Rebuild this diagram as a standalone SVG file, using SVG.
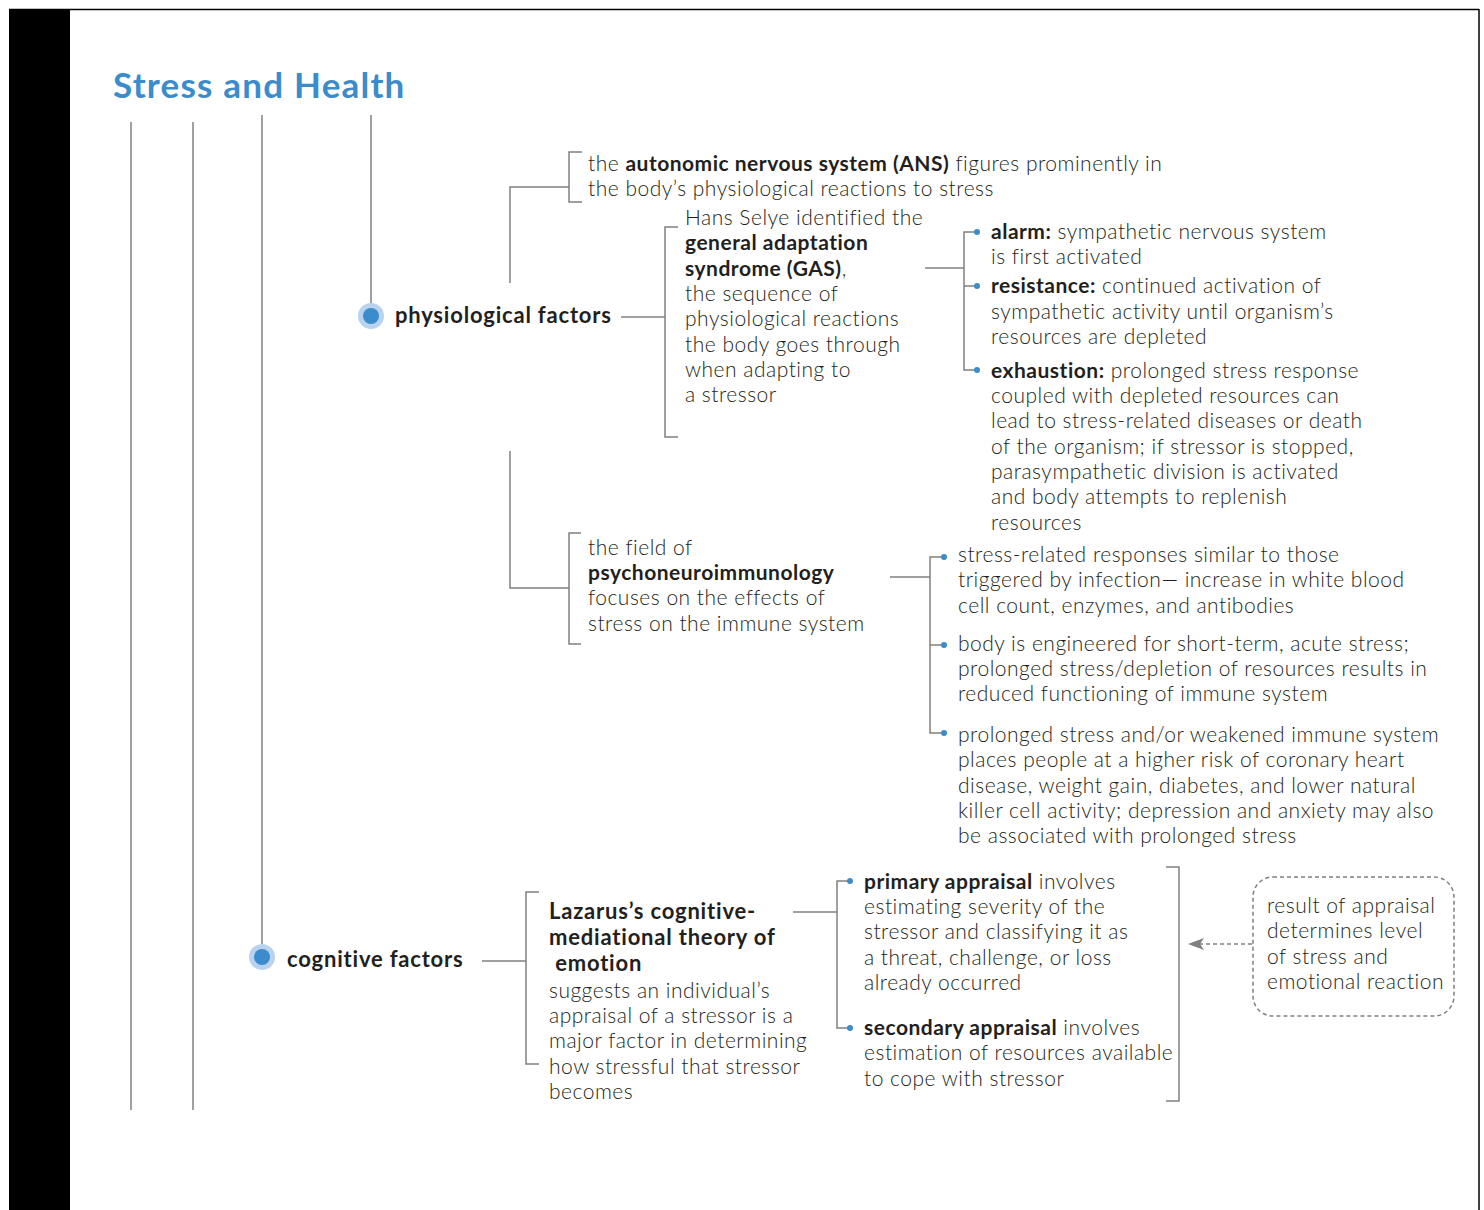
<svg xmlns="http://www.w3.org/2000/svg" width="1484" height="1210" viewBox="0 0 1484 1210">
<defs>
<style>
.t{font-family:Lato,"Noto Sans","DejaVu Sans",sans-serif;font-size:21px;font-weight:300;letter-spacing:0.5px;fill:#231f20}
.b{font-weight:700}
.h{font-family:Lato,"Noto Sans","DejaVu Sans",sans-serif;font-size:22px;font-weight:700;letter-spacing:0.8px;fill:#231f20}
.ttl{font-family:Lato,"Noto Sans","DejaVu Sans",sans-serif;font-size:35px;font-weight:700;letter-spacing:1.2px;fill:#3a8ccc}
.ln{fill:none;stroke:#808080;stroke-width:1.5}
.dl{fill:none;stroke:#808080;stroke-width:1.5;stroke-dasharray:4 3}
.dot{fill:#3a8ccc}
.halo{fill:#b9d3ef}
</style>
<marker id="ah" viewBox="0 0 16 12" refX="15" refY="6" markerWidth="16" markerHeight="12" markerUnits="userSpaceOnUse" orient="auto">
<path d="M0,0 L16,6 L0,12 L4,6 Z" fill="#808080"/>
</marker>
</defs>
<rect x="0" y="0" width="1484" height="1210" fill="#ffffff"/>
<g id="frame">
<rect x="9" y="9" width="61" height="1201" fill="#000000"/>
<line x1="9" y1="9.5" x2="1479" y2="9.5" stroke="#000" stroke-width="1.5"/>
<line x1="1479" y1="9" x2="1479" y2="1210" stroke="#000" stroke-width="1.5"/>
</g>
<text class="ttl" x="113" y="98">Stress and Health</text>

<g id="connectors">
<line class="ln" x1="131" y1="122" x2="131" y2="1110"/>
<line class="ln" x1="193" y1="122" x2="193" y2="1110"/>
<line class="ln" x1="262" y1="115" x2="262" y2="945"/>
<line class="ln" x1="371" y1="115" x2="371" y2="304"/>
<!-- ANS branch -->
<polyline class="ln" points="510,283 510,187 569,187"/>
<polyline class="ln" points="582,152 569,152 569,202 582,202"/>
<!-- GAS -->
<line class="ln" x1="621" y1="317" x2="665" y2="317"/>
<polyline class="ln" points="678,227 665,227 665,437 678,437"/>
<line class="ln" x1="925" y1="268" x2="964" y2="268"/>
<polyline class="ln" points="976,232 964,232 964,370 976,370"/>
<line class="ln" x1="964" y1="286" x2="976" y2="286"/>
<!-- psycho branch -->
<polyline class="ln" points="510,451 510,588 569,588"/>
<polyline class="ln" points="581,533 569,533 569,644 581,644"/>
<line class="ln" x1="890" y1="577" x2="930" y2="577"/>
<polyline class="ln" points="942,557 930,557 930,733 942,733"/>
<line class="ln" x1="930" y1="645" x2="942" y2="645"/>
<!-- cognitive -->
<line class="ln" x1="482" y1="961" x2="526" y2="961"/>
<polyline class="ln" points="539,892 526,892 526,1064 539,1064"/>
<line class="ln" x1="793" y1="912" x2="837" y2="912"/>
<polyline class="ln" points="849,881 837,881 837,1028 849,1028"/>
<polyline class="ln" points="1166,867 1179,867 1179,1101 1166,1101"/>
<line class="dl" x1="1252" y1="944" x2="1189" y2="944" marker-end="url(#ah)"/>
<!-- bullet dots -->
<circle class="dot" cx="977" cy="232" r="3"/>
<circle class="dot" cx="977" cy="286" r="3"/>
<circle class="dot" cx="977" cy="370" r="3"/>
<circle class="dot" cx="944" cy="557" r="3"/>
<circle class="dot" cx="944" cy="645" r="3"/>
<circle class="dot" cx="944" cy="733" r="3"/>
<circle class="dot" cx="850" cy="881" r="3"/>
<circle class="dot" cx="850" cy="1028" r="3"/>
</g>

<g id="node-physiological">
<circle class="halo" cx="371" cy="316" r="13"/>
<circle class="dot" cx="371" cy="316" r="8"/>
<text class="h" x="395" y="323">physiological factors</text>
</g>

<g id="node-ans">
<text class="t" x="588" y="171">the <tspan class="b">autonomic nervous system (ANS)</tspan> figures prominently in</text>
<text class="t" x="588" y="196">the body’s physiological reactions to stress</text>
</g>

<g id="node-gas">
<text class="t" x="685" y="225">Hans Selye identified the</text>
<text class="t b" x="685" y="250">general adaptation</text>
<text class="t" x="685" y="276"><tspan class="b">syndrome (GAS)</tspan>,</text>
<text class="t" x="685" y="301">the sequence of</text>
<text class="t" x="685" y="326">physiological reactions</text>
<text class="t" x="685" y="352">the body goes through</text>
<text class="t" x="685" y="377">when adapting to</text>
<text class="t" x="685" y="402">a stressor</text>
</g>

<g id="node-stages">
<text class="t" x="991" y="239"><tspan class="b">alarm:</tspan> sympathetic nervous system</text>
<text class="t" x="991" y="264">is first activated</text>
<text class="t" x="991" y="293"><tspan class="b">resistance:</tspan> continued activation of</text>
<text class="t" x="991" y="319">sympathetic activity until organism’s</text>
<text class="t" x="991" y="344">resources are depleted</text>
<text class="t" x="991" y="378"><tspan class="b">exhaustion:</tspan> prolonged stress response</text>
<text class="t" x="991" y="403">coupled with depleted resources can</text>
<text class="t" x="991" y="428">lead to stress-related diseases or death</text>
<text class="t" x="991" y="454">of the organism; if stressor is stopped,</text>
<text class="t" x="991" y="479">parasympathetic division is activated</text>
<text class="t" x="991" y="504">and body attempts to replenish</text>
<text class="t" x="991" y="530">resources</text>
</g>

<g id="node-pni">
<text class="t" x="588" y="555">the field of</text>
<text class="t b" x="588" y="580">psychoneuroimmunology</text>
<text class="t" x="588" y="605">focuses on the effects of</text>
<text class="t" x="588" y="631">stress on the immune system</text>
</g>

<g id="node-pni-effects">
<text class="t" x="958" y="562">stress-related responses similar to those</text>
<text class="t" x="958" y="587">triggered by infection— increase in white blood</text>
<text class="t" x="958" y="613">cell count, enzymes, and antibodies</text>
<text class="t" x="958" y="651">body is engineered for short-term, acute stress;</text>
<text class="t" x="958" y="676">prolonged stress/depletion of resources results in</text>
<text class="t" x="958" y="701">reduced functioning of immune system</text>
<text class="t" x="958" y="742">prolonged stress and/or weakened immune system</text>
<text class="t" x="958" y="767">places people at a higher risk of coronary heart</text>
<text class="t" x="958" y="793">disease, weight gain, diabetes, and lower natural</text>
<text class="t" x="958" y="818">killer cell activity; depression and anxiety may also</text>
<text class="t" x="958" y="843">be associated with prolonged stress</text>
</g>

<g id="node-cognitive">
<circle class="halo" cx="262" cy="957" r="13"/>
<circle class="dot" cx="262" cy="957" r="8"/>
<text class="h" x="287" y="967">cognitive factors</text>
</g>

<g id="node-lazarus">
<text class="h" x="549" y="919">Lazarus’s cognitive-</text>
<text class="h" x="549" y="945">mediational theory of</text>
<text class="h" x="549" y="971" xml:space="preserve"> emotion</text>
<text class="t" x="549" y="998">suggests an individual’s</text>
<text class="t" x="549" y="1023">appraisal of a stressor is a</text>
<text class="t" x="549" y="1048">major factor in determining</text>
<text class="t" x="549" y="1074">how stressful that stressor</text>
<text class="t" x="549" y="1099">becomes</text>
</g>

<g id="node-appraisal">
<text class="t" x="864" y="889"><tspan class="b">primary appraisal</tspan> involves</text>
<text class="t" x="864" y="914">estimating severity of the</text>
<text class="t" x="864" y="939">stressor and classifying it as</text>
<text class="t" x="864" y="965">a threat, challenge, or loss</text>
<text class="t" x="864" y="990">already occurred</text>
<text class="t" x="864" y="1035"><tspan class="b">secondary appraisal</tspan> involves</text>
<text class="t" x="864" y="1060">estimation of resources available</text>
<text class="t" x="864" y="1086">to cope with stressor</text>
</g>

<g id="node-result">
<rect class="dl" x="1253" y="877" width="201" height="139" rx="20" ry="20"/>
<text class="t" x="1267" y="913">result of appraisal</text>
<text class="t" x="1267" y="938">determines level</text>
<text class="t" x="1267" y="964">of stress and</text>
<text class="t" x="1267" y="989">emotional reaction</text>
</g>
</svg>
